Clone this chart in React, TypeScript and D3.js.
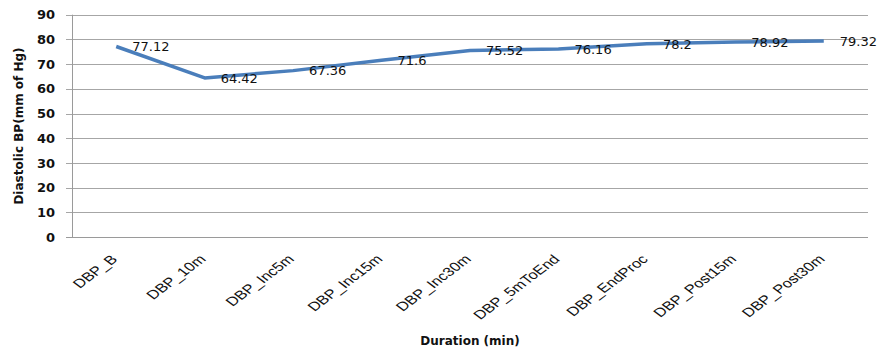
import React from "react";
import * as d3 from "d3";

const categories = [
  "DBP_B",
  "DBP_10m",
  "DBP_Inc5m",
  "DBP_Inc15m",
  "DBP_Inc30m",
  "DBP_5mToEnd",
  "DBP_EndProc",
  "DBP_Post15m",
  "DBP_Post30m",
];
const diastolic = [77.12, 64.42, 67.36, 71.6, 75.52, 76.16, 78.2, 78.92, 79.32];
const yTicks = [0, 10, 20, 30, 40, 50, 60, 70, 80, 90];
const yTitle = "Diastolic BP(mm of Hg)";
const xTitle = "Duration (min)";

const W = 885;
const H = 351;
const left = 72;
const right = 868;
const top = 14.7;
const bottom = 237;

export default function App() {
  const x = d3.scalePoint<string>().domain(categories).range([left, right]).padding(0.5);
  const y = d3.scaleLinear().domain([0, 90]).range([bottom, top]);
  const pts: [number, number][] = categories.map((c, i) => [x(c) as number, y(diastolic[i])]);
  const line = d3.line<[number, number]>().x((d) => d[0]).y((d) => d[1]);

  return (
    <svg
      width={W}
      height={H}
      style={{ position: "absolute", left: 0, top: 0, background: "#fff" }}
    >
      {/* horizontal gridlines */}
      {yTicks.map((t) => (
        <line
          key={"g" + t}
          x1={left - 6}
          x2={right}
          y1={Math.round(y(t)) + 0.5}
          y2={Math.round(y(t)) + 0.5}
          stroke={t === 0 ? "#9a9a9a" : "#a6a6a6"}
          strokeWidth={1}
        />
      ))}
      {/* value axis */}
      <line x1={left + 0.5} x2={left + 0.5} y1={top} y2={bottom} stroke="#9a9a9a" strokeWidth={1} />
      {yTicks.map((t) => (
        <text
          key={"yl" + t}
          x={55}
          y={y(t)}
          dy="0.36em"
          textAnchor="end"
          fontFamily="DejaVu Sans"
          fontWeight="bold"
          fontSize={13}
          fill="#111"
        >
          {t}
        </text>
      ))}
      <text
        transform={`translate(23,126) rotate(-90)`}
        textAnchor="middle"
        fontFamily="DejaVu Sans"
        fontWeight="bold"
        fontSize={12}
        fill="#111"
      >
        {yTitle}
      </text>

      {/* category labels */}
      {categories.map((c) => (
        <text
          key={"xl" + c}
          transform={`translate(${(x(c) as number) + 2},260) scale(1.33,1) rotate(-45)`}
          textAnchor="end"
          fontFamily="Liberation Sans"
          fontSize={12.5}
          fill="#111"
        >
          {c}
        </text>
      ))}
      <text
        x={(left + right) / 2}
        y={345}
        textAnchor="middle"
        fontFamily="DejaVu Sans"
        fontWeight="bold"
        fontSize={12}
        fill="#111"
      >
        {xTitle}
      </text>

      {/* series */}
      <path
        d={line(pts) || ""}
        fill="none"
        stroke="#4A7EBB"
        strokeWidth={3.5}
        strokeLinejoin="round"
        strokeLinecap="butt"
      />
      {pts.map((p, i) => (
        <text
          key={"v" + i}
          x={p[0] + 16}
          y={p[1]}
          dy="0.36em"
          fontFamily="DejaVu Sans"
          fontSize={13}
          fill="#111"
        >
          {diastolic[i]}
        </text>
      ))}
    </svg>
  );
}
